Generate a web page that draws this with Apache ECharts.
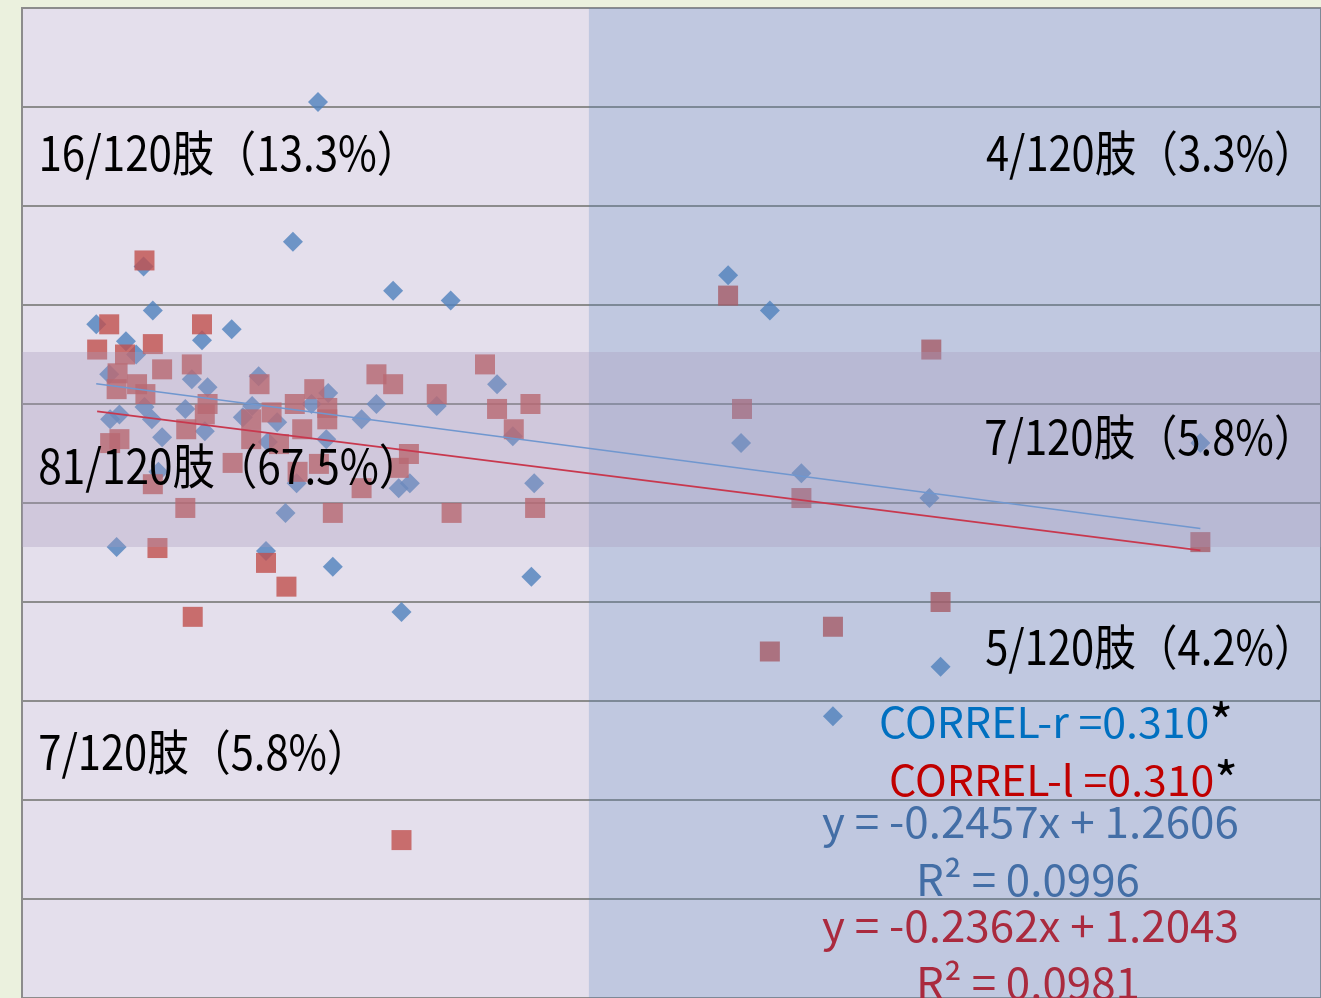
<!DOCTYPE html>
<html>
<head>
<meta charset="utf-8">
<script src="https://cdn.jsdelivr.net/npm/echarts@6/dist/echarts.min.js"></script>
<style>
  html, body { margin: 0; padding: 0; background: #EBF1DE; }
  #chart { width: 1321px; height: 998px; }
</style>
</head>
<body>
<div id="chart"></div>
<script>
// Right limb measurements (blue diamonds): [x, y]
const rightLimb = [
  [0.319, 1.810], [0.292, 1.528], [0.131, 1.478], [0.080, 1.361], [0.141, 1.389],
  [0.226, 1.351], [0.194, 1.329], [0.112, 1.327], [0.400, 1.429], [0.462, 1.409],
  [0.123, 1.300], [0.094, 1.260], [0.183, 1.250], [0.200, 1.234], [0.255, 1.256],
  [0.132, 1.194], [0.105, 1.179], [0.095, 1.169], [0.140, 1.169], [0.176, 1.190],
  [0.197, 1.145], [0.151, 1.133], [0.248, 1.196], [0.275, 1.163], [0.312, 1.200],
  [0.330, 1.222], [0.265, 1.123], [0.328, 1.129], [0.147, 1.063], [0.296, 1.040],
  [0.284, 0.980], [0.366, 1.169], [0.382, 1.200], [0.447, 1.196], [0.406, 1.030],
  [0.418, 1.040], [0.512, 1.240], [0.529, 1.135], [0.552, 1.040], [0.238, 1.173],
  [0.102, 0.911], [0.263, 0.903], [0.335, 0.871], [0.409, 0.780], [0.549, 0.851],
  [0.761, 1.460], [0.806, 1.389], [0.775, 1.121], [0.840, 1.060], [0.978, 1.010],
  [1.270, 1.121], [0.990, 0.669], [0.874, 0.569]
];

// Left limb measurements (red squares): [x, y]
const leftLimb = [
  [0.132, 1.490], [0.094, 1.361], [0.194, 1.361], [0.081, 1.310], [0.141, 1.321],
  [0.111, 1.300], [0.151, 1.270], [0.183, 1.280], [0.103, 1.262], [0.102, 1.230],
  [0.124, 1.240], [0.133, 1.220], [0.256, 1.240], [0.200, 1.200], [0.197, 1.179],
  [0.177, 1.149], [0.095, 1.121], [0.105, 1.129], [0.247, 1.169], [0.269, 1.183],
  [0.294, 1.200], [0.315, 1.230], [0.329, 1.192], [0.329, 1.169], [0.302, 1.149],
  [0.247, 1.129], [0.277, 1.119], [0.227, 1.081], [0.297, 1.063], [0.320, 1.079],
  [0.141, 1.038], [0.366, 1.030], [0.382, 1.260], [0.400, 1.240], [0.447, 1.220],
  [0.499, 1.280], [0.512, 1.190], [0.548, 1.200], [0.530, 1.149], [0.417, 1.099],
  [0.406, 1.071], [0.176, 0.990], [0.335, 0.980], [0.463, 0.980], [0.553, 0.990],
  [0.146, 0.909], [0.263, 0.879], [0.285, 0.831], [0.184, 0.770], [0.409, 0.319],
  [0.761, 1.419], [0.980, 1.310], [0.776, 1.190], [0.840, 1.010], [1.270, 0.921],
  [0.990, 0.800], [0.874, 0.750], [0.806, 0.700]
];

// Linear fits and correlations: index 0 = right (r), 1 = left (l)
const fitSlope = [-0.2457, -0.2362];
const fitIntercept = [1.2606, 1.2043];
const fitR2 = [0.0996, 0.0981];
const correl = [0.310, 0.310];
const correlTags = ['CORREL-r', 'CORREL-l'];

// Axis ranges and tick step
const xRange = [0, 1.4];
const yRange = [0, 2.0];
const yStep = 0.2;

// Shaded zones: right-hand zone starts at this x; horizontal band spans these y values
const zoneBreakX = 0.611;
const bandY = [0.911, 1.305];

// Region counts
const regionLabels = [
  '16/120肢（13.3%）', '4/120肢（3.3%）', '81/120肢（67.5%）',
  '7/120肢（5.8%）', '5/120肢（4.2%）', '7/120肢（5.8%）'
];

// ---- layout & styling ----
const FONT = '"Noto Sans CJK JP", "Noto Sans", sans-serif';
const BLUE = '#4F81BD';
const RED = '#C0504D';

const measureCtx = document.createElement('canvas').getContext('2d');
// Horizontal scale that makes the inked width of `text` equal `width`
function fitInk(text, size, width) {
  measureCtx.font = size + 'px ' + FONT;
  const m = measureCtx.measureText(text);
  const ink = m.actualBoundingBoxLeft + m.actualBoundingBoxRight;
  const scale = width / ink;
  return { scale: scale, shift: m.actualBoundingBoxLeft * scale };
}

// segments: [[text, color, sizeOverride?], ...]; the first segment is used for fitting
function textEl(segments, size, box) {
  const rich = {};
  let str = '';
  segments.forEach((s, i) => {
    rich['s' + i] = { fill: s[1], fontSize: s[2] || size, fontFamily: FONT };
    str += '{s' + i + '|' + s[0] + '}';
  });
  const f = fitInk(segments[0][0], size, box.width);
  return {
    type: 'text', x: box.left + f.shift, y: box.cy, scaleX: f.scale,
    z: 100, silent: true,
    style: { text: str, rich: rich, fontSize: size, fontFamily: FONT, align: 'left', verticalAlign: 'middle' }
  };
}

const labelBoxes = [
  { left: 42, cy: 153, width: 348 },
  { left: 986, cy: 153, width: 301 },
  { left: 40, cy: 466, width: 352 },
  { left: 986, cy: 437, width: 301 },
  { left: 986, cy: 647, width: 301 },
  { left: 40, cy: 752, width: 300 }
];

const graphics = regionLabels.map((t, i) => textEl([[t, '#000000']], 48, labelBoxes[i]));

const correlColors = ['#0070C0', '#C00000'];
const correlBoxes = [{ left: 881, cy: 722, width: 327 }, { left: 891, cy: 780, width: 322 }];
correl.forEach((c, i) => {
  graphics.push(textEl([[correlTags[i] + ' =' + c.toFixed(3), correlColors[i]], ['*', '#000000', 50]], 42, correlBoxes[i]));
});

const eqColors = ['#436EA6', '#AA2A3E'];
const eqBoxes = [{ left: 822, cy: 822, width: 415 }, { left: 822, cy: 926, width: 415 }];
const r2Boxes = [{ left: 920, cy: 880, width: 218 }, { left: 920, cy: 983, width: 218 }];
fitSlope.forEach((m, i) => {
  const eq = 'y = ' + m.toFixed(4) + 'x + ' + fitIntercept[i].toFixed(4);
  graphics.push(textEl([[eq, eqColors[i]]], 43, eqBoxes[i]));
  graphics.push(textEl([['R² = ' + fitR2[i].toFixed(4), eqColors[i]]], 43, r2Boxes[i]));
});

// Trend line across the data's x extent
function fitLine(data, i) {
  const xs = data.map(d => d[0]);
  const x0 = Math.min.apply(null, xs), x1 = Math.max.apply(null, xs);
  return [[x0, fitSlope[i] * x0 + fitIntercept[i]], [x1, fitSlope[i] * x1 + fitIntercept[i]]];
}

// Translucent zones: [x0, y0, x1, y1]
const zones = [
  [zoneBreakX, yRange[1], xRange[1], yRange[0]],
  [xRange[0], bandY[1], xRange[1], bandY[0]]
];
const zoneFills = ['rgba(79,129,189,0.24)', 'rgba(168,154,188,0.33)'];

const chart = echarts.init(document.getElementById('chart'));
chart.setOption({
  animation: false,
  backgroundColor: '#EBF1DE',
  grid: {
    left: 22, top: 8, width: 1302, height: 992,
    show: true, backgroundColor: '#E4DFEC', borderColor: '#8C8C8C', borderWidth: 2
  },
  xAxis: { type: 'value', min: xRange[0], max: xRange[1], show: false },
  yAxis: {
    type: 'value', min: yRange[0], max: yRange[1], interval: yStep,
    axisLine: { show: false }, axisTick: { show: false }, axisLabel: { show: false },
    splitLine: { show: true, lineStyle: { color: '#8C8C8C', width: 2 } }
  },
  series: [
    {
      type: 'scatter', data: rightLimb, symbol: 'diamond', symbolSize: 20,
      itemStyle: { color: BLUE }, z: 2, silent: true
    },
    {
      type: 'scatter', data: leftLimb, symbol: 'rect', symbolSize: 20,
      itemStyle: { color: RED }, z: 2, silent: true
    },
    {
      type: 'custom', data: zones, z: 4, silent: true, clip: false,
      encode: { x: [0, 2], y: [1, 3] },
      renderItem: function (params, api) {
        const p0 = api.coord([api.value(0), api.value(1)]);
        const p1 = api.coord([api.value(2), api.value(3)]);
        return {
          type: 'rect',
          shape: { x: p0[0], y: p0[1], width: p1[0] - p0[0], height: p1[1] - p0[1] },
          style: { fill: zoneFills[params.dataIndex] }
        };
      }
    },
    {
      type: 'line', data: fitLine(rightLimb, 0), symbol: 'none', z: 6, silent: true,
      lineStyle: { color: '#7097CF', width: 1.6 }
    },
    {
      type: 'line', data: fitLine(leftLimb, 1), symbol: 'none', z: 6, silent: true,
      lineStyle: { color: '#C8384E', width: 1.6 }
    }
  ],
  graphic: graphics
});
</script>
</body>
</html>
